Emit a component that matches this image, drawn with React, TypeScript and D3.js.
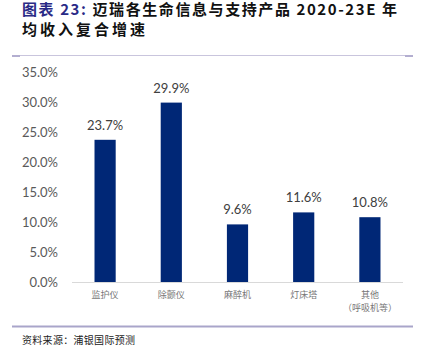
import React from 'react';
import * as d3 from 'd3';

const categories = ['监护仪', '除颤仪', '麻醉机', '灯床塔', '其他'];
const subLabels = ['', '', '', '', '（呼吸机等）'];
const values = [23.7, 29.9, 9.6, 11.6, 10.8];
const yTicks = [0, 5, 10, 15, 20, 25, 30, 35];

const W = 423;
const H = 353;
const plot = { left: 72, right: 403, top: 72, bottom: 282 };

const App: React.FC = () => {
  const x = d3.scaleBand<string>()
    .domain(categories)
    .range([plot.left, plot.right])
    .paddingInner(0.68)
    .paddingOuter(0.34);
  const y = d3.scaleLinear().domain([0, 35]).range([plot.bottom, plot.top]);

  const labelFont = 'Lato, "Open Sans", sans-serif';
  const cjk = '"Noto Sans CJK SC", sans-serif';

  return (
    <svg width={W} height={H} style={{ position: 'absolute', left: 0, top: 0, background: '#fff' }}>
      {/* title */}
      <text x={22} y={14.5} fontFamily={cjk} fontWeight={700} fontSize={15} textLength={375} lengthAdjust="spacing">
        <tspan fill="#2a2a86">图表 23:</tspan>
        <tspan fill="#111"> 迈瑞各生命信息与支持产品 2020-23E 年</tspan>
      </text>
      <text x={22} y={35} fontFamily={cjk} fontWeight={700} fontSize={15} fill="#111" textLength={123} lengthAdjust="spacing">
        均收入复合增速
      </text>

      {/* top rule */}
      <line x1={12} x2={413} y1={55.5} y2={55.5} stroke="#c9c5dd" strokeWidth={1} />
      <rect x={12} y={55} width={8} height={2} fill="#b3aed0" />
      <rect x={405} y={55} width={8} height={2} fill="#b3aed0" />

      {/* y ticks */}
      {yTicks.map(t => (
        <text key={t} x={58} y={y(t)} dy="0.35em" textAnchor="end" fontFamily={labelFont} fontSize={13} fill="#595959">
          {t.toFixed(1)}%
        </text>
      ))}

      {/* bars */}
      {categories.map((c, i) => (
        <g key={c}>
          <rect x={x(c)!} y={y(values[i])} width={x.bandwidth()} height={y(0) - y(values[i])} fill="#002776" />
          <text x={x(c)! + x.bandwidth() / 2} y={y(values[i]) - 10} textAnchor="middle" fontFamily={labelFont} fontSize={13} fill="#404040">
            {values[i].toFixed(1)}%
          </text>
        </g>
      ))}

      {/* x axis */}
      <line x1={plot.left} x2={plot.right} y1={y(0) + 0.5} y2={y(0) + 0.5} stroke="#d9d9d9" strokeWidth={1} />
      {categories.map((c, i) => (
        <g key={c + '-l'}>
          <text x={x(c)! + x.bandwidth() / 2} y={295} dy="0.35em" textAnchor="middle" fontFamily={cjk} fontSize={9} fill="#777">
            {c}
          </text>
          {subLabels[i] && (
            <text x={x(c)! + x.bandwidth() / 2} y={308} dy="0.35em" textAnchor="middle" fontFamily={cjk} fontSize={9} fill="#777">
              {subLabels[i]}
            </text>
          )}
        </g>
      ))}

      {/* bottom rule + source */}
      <line x1={12} x2={413} y1={326.5} y2={326.5} stroke="#a9a5ca" strokeWidth={2} />
      <text x={22} y={340} dy="0.35em" fontFamily={cjk} fontSize={10} fill="#222" textLength={113} lengthAdjust="spacing">
        资料来源：浦银国际预测
      </text>
    </svg>
  );
};

export default App;
